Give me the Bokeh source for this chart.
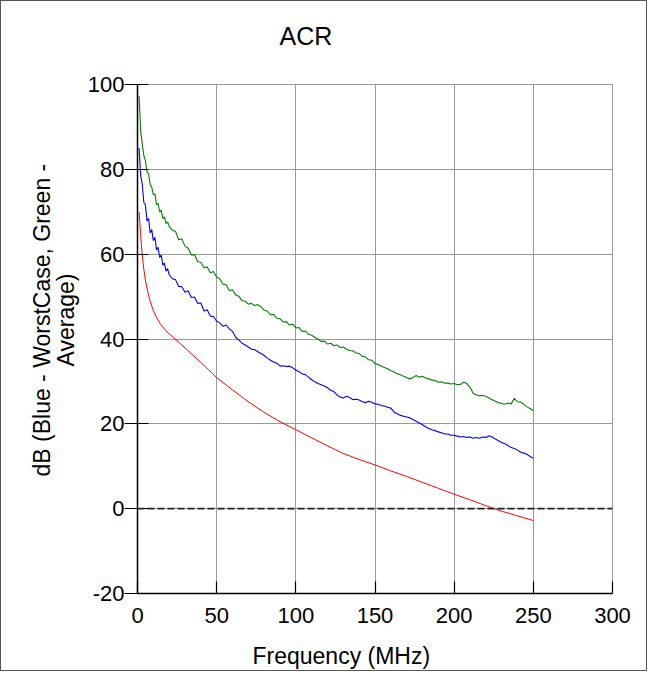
import math
from bokeh.plotting import figure
from bokeh.models import Range1d, FixedTicker, Span, Title, PrintfTickFormatter
from bokeh.embed import file_html
from bokeh.resources import INLINE

# ---- data ----
title_text = "ACR"
x_label = "Frequency (MHz)"
y_label_lines = ["dB (Blue - WorstCase, Green -", "Average)"]
x_ticks = [0, 50, 100, 150, 200, 250, 300]
y_ticks = [-20, 0, 20, 40, 60, 80, 100]

freq = [1, 2, 3, 4, 5, 6, 7, 8, 9, 10, 11, 12, 13, 14, 15, 16, 17, 18, 19, 20,
        22, 24, 26, 28, 30, 32, 34, 36, 38, 40, 42, 44, 46, 48, 50,
        52, 54, 56, 58, 60, 62, 64, 66, 68, 70, 72, 74, 76, 78, 80, 82, 84, 86, 88, 90,
        92, 94, 96, 98, 100, 102, 104, 106, 108, 110, 112, 114, 116, 118, 120, 122, 124, 126, 128, 130,
        132, 134, 136, 138, 140, 142, 144, 146, 148, 150, 152, 154, 156, 158, 160, 162, 164, 166, 168, 170,
        172, 174, 176, 178, 180, 182, 184, 186, 188, 190, 192, 194, 196, 198, 200, 202, 204, 206, 208, 210,
        212, 214, 216, 218, 220, 222, 224, 226, 228, 230, 232, 234, 236, 238, 240, 242, 244, 246, 248, 250]

average_green = [97.3, 89.0, 86.0, 83.2, 82.0, 79.4, 79.0, 76.4, 75.8, 74.0, 74.2, 71.6, 72.0, 70.0, 70.4, 68.4, 68.8, 67.2, 67.6, 66.6,
                 65.6, 65.4, 63.4, 63.6, 61.9, 61.4, 59.8, 59.9, 58.2, 58.1, 56.8, 57.0, 55.6, 55.9, 54.6,
                 54.2, 52.9, 52.8, 51.4, 51.6, 50.4, 50.1, 49.0, 48.9, 48.2, 48.4, 47.9, 48.1, 47.6, 46.8, 46.6, 45.7, 45.8, 44.9, 44.8,
                 44.0, 44.1, 43.3, 43.5, 42.6, 42.7, 41.8, 41.9, 41.1, 40.9, 40.4, 40.0, 39.4, 39.5, 38.8, 39.0, 38.4, 38.6, 38.0, 38.1,
                 37.6, 37.3, 37.2, 36.7, 36.6, 35.9, 35.8, 35.1, 35.0, 34.2, 34.0, 33.6, 33.3, 33.0, 32.5, 32.2, 31.8, 31.6, 31.2, 30.9,
                 30.6, 30.9, 31.4, 31.0, 31.2, 30.8, 30.6, 30.3, 30.2, 29.8, 29.9, 29.6, 29.6, 29.4, 29.5, 29.2, 29.3, 29.8, 29.5, 28.6,
                 27.2, 26.8, 26.6, 26.7, 26.5, 26.1, 25.7, 25.3, 25.0, 24.8, 24.6, 24.9, 24.7, 26.0, 25.2, 25.1, 24.6, 24.0, 23.6, 23.1]

worstcase_blue = [85.0, 78.5, 76.5, 72.2, 71.6, 67.8, 68.4, 65.0, 65.8, 63.2, 64.0, 61.0, 61.6, 59.2, 59.8, 57.4, 57.9, 56.0, 56.6, 55.2,
                  54.2, 54.0, 52.4, 52.3, 51.0, 51.4, 49.8, 49.9, 48.4, 48.5, 46.6, 46.9, 45.4, 45.3, 44.2,
                  43.8, 43.0, 43.3, 42.4, 41.8, 40.4, 39.8, 39.0, 38.6, 38.1, 37.6, 37.5, 37.0, 36.6, 36.1, 35.5, 35.0, 34.6, 34.3, 33.6,
                  33.7, 33.5, 33.6, 33.2, 32.7, 32.3, 31.8, 31.6, 31.0, 30.4, 29.9, 29.5, 29.2, 28.9, 28.5, 27.9, 27.6, 26.8, 26.3, 26.1,
                  26.5, 26.2, 25.7, 25.8, 25.6, 25.2, 25.0, 25.3, 25.1, 24.7, 24.6, 24.3, 24.2, 23.9, 23.7, 22.8, 22.4, 22.0, 21.8, 21.6,
                  21.4, 21.0, 20.6, 20.2, 19.8, 19.3, 18.9, 18.6, 18.4, 18.1, 17.9, 17.6, 17.6, 17.3, 17.3, 17.1, 16.9, 17.0, 16.8, 16.9,
                  16.6, 16.8, 16.6, 16.9, 16.8, 17.2, 16.9, 16.4, 16.0, 15.6, 15.3, 14.9, 14.4, 14.2, 13.8, 13.3, 13.1, 12.8, 12.3, 11.9]

limit_freq = [1, 1.5, 2, 2.5, 3, 4, 5, 6, 7, 8, 10, 12, 14, 16, 18, 20, 25, 30, 35, 40, 45, 50, 60, 70, 80, 90,
              100, 110, 120, 130, 140, 150, 160, 170, 180, 190, 200, 210, 220, 230, 240, 250]
limit_red = [70.0, 67.2, 64.6, 62.0, 59.8, 56.4, 53.9, 52.0, 50.3, 48.9, 46.7, 45.1, 43.8, 42.8, 41.9, 41.2, 39.6, 37.9, 36.2, 34.5, 32.7, 30.9,
             28.0, 25.2, 22.7, 20.5, 18.6, 16.7, 14.8, 13.0, 11.6, 10.3, 8.9, 7.6, 6.2, 4.8, 3.4, 2.1, 0.7, -0.6, -1.7, -2.8]

FONT = "Liberation Sans"

p = figure(width=647, height=671,
           x_range=Range1d(0, 300), y_range=Range1d(-20, 100),
           output_backend="svg", toolbar_location=None,
           min_border_left=136, min_border_right=36,
           min_border_top=83, min_border_bottom=79)

# spacer between frame and title
p.add_layout(Title(text=" ", text_font_size="10px", standoff=17), "above")

p.title.text = title_text
p.title.text_font = FONT
p.title.text_font_size = "25px"
p.title.text_font_style = "normal"
p.title.text_color = "black"
p.title.align = "left"
p.title.offset = 142
p.title.standoff = 9

p.outline_line_color = "#999999"
p.outline_line_width = 1
p.background_fill_color = "white"
p.border_fill_color = "white"

for ax in (p.xaxis[0], p.yaxis[0]):
    ax.axis_line_color = "black"
    ax.axis_line_width = 1.5
    ax.major_tick_line_color = "black"
    ax.major_tick_line_width = 1.2
    ax.minor_tick_line_color = None
    ax.major_label_text_font = FONT
    ax.major_label_text_font_size = "22px"
    ax.major_label_text_color = "black"
    ax.formatter = PrintfTickFormatter(format="%d")

p.xaxis[0].ticker = FixedTicker(ticks=x_ticks)
p.yaxis[0].ticker = FixedTicker(ticks=y_ticks)
p.xaxis[0].major_tick_in = 12
p.xaxis[0].major_tick_out = 0
p.xaxis[0].major_label_standoff = 14
p.yaxis[0].major_tick_in = 11
p.yaxis[0].major_tick_out = 13
p.yaxis[0].major_label_standoff = 0

# small invisible spacer below the x tick labels
p.xaxis[0].axis_label = " "
p.xaxis[0].axis_label_text_font_size = "1px"
p.xaxis[0].axis_label_standoff = 13

p.add_layout(Title(text=x_label, align="left", offset=115, vertical_align="top",
                   standoff=0, text_font=FONT, text_font_size="23px",
                   text_font_style="normal", text_color="black"), "below")

label_style = dict(text_font=FONT, text_font_size="23px", text_font_style="normal",
                   text_color="black", align="left", vertical_align="bottom")
try:
    inner = Title(text=y_label_lines[1], offset=227, standoff=12, **label_style)
    outer = Title(text=y_label_lines[0], offset=117, standoff=-21, **label_style)
    p.add_layout(inner, "left")
    p.add_layout(outer, "left")
except Exception:
    p.add_layout(Title(text="\n".join(y_label_lines), offset=117, standoff=12,
                       text_line_height=0.9, **label_style), "left")

p.grid.grid_line_color = "#999999"
p.grid.grid_line_width = 1
p.xgrid.ticker = FixedTicker(ticks=x_ticks)
p.ygrid.ticker = FixedTicker(ticks=y_ticks)

p.line(limit_freq, limit_red, line_color="#ff0000", line_width=1)
p.line(freq, worstcase_blue, line_color="#0000ff", line_width=1.1)
p.line(freq, average_green, line_color="#008000", line_width=1.1)

p.add_layout(Span(location=0, dimension="width", line_color="#222222",
                  line_width=1.6, line_dash="7 3"))

p.styles = {"border": "1px solid #555555"}

open("out.html", "w").write(file_html(p, INLINE))
